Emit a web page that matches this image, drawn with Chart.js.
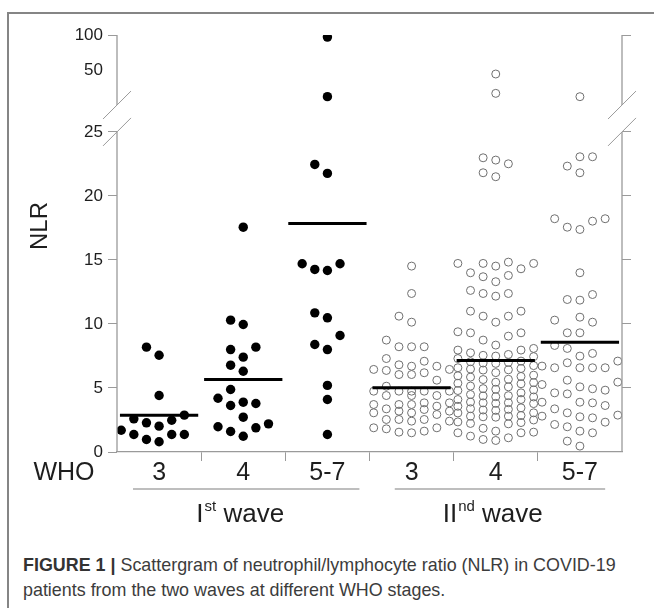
<!DOCTYPE html>
<html>
<head>
<meta charset="utf-8">
<title>NLR scattergram</title>
<script src="https://cdn.jsdelivr.net/npm/chart.js@4.4.1/dist/chart.umd.min.js"></script>
<style>
  html, body { margin: 0; padding: 0; background: #fff; }
  body { width: 654px; height: 608px; position: relative; overflow: hidden; font-family: "Liberation Sans", Arial, sans-serif; }
  #frame { position: absolute; left: 7px; top: 12px; width: 700px; height: 700px; border-left: 2px solid #858585; border-top: 2px solid #858585; }
  #chartBox { position: absolute; left: 0; top: 0; width: 654px; height: 540px; }
  #caption { position: absolute; left: 23px; top: 553px; width: 630px; font-size: 17.9px; line-height: 25px; color: #3c3c3c; white-space: nowrap; }
  #caption b { color: #333; }
</style>
</head>
<body>
<div id="frame"></div>
<div id="chartBox"><canvas id="nlrChart"></canvas></div>
<div id="caption"><b>FIGURE 1 |</b> Scattergram of neutrophil/lymphocyte ratio (NLR) in COVID-19<br>patients from the two waves at different WHO stages.</div>

<script>
// categories and axis labels
const groupLabels = ['3', '4', '5-7', '3', '4', '5-7'];
const waveNames = [['I', 'st'], ['II', 'nd']];
const yTickValues = [0, 5, 10, 15, 20, 25, 50, 100];

// NLR values, one array per wave / WHO stage
const wave1Who3 = [1.70, 2.88, 1.37, 2.48, 0.98, 4.41, 2.02, 0.80, 2.28, 1.37, 7.56, 8.19, 2.59, 1.37];
const wave1Who4 = [17.56, 9.96, 10.3, 8.19, 8.0, 7.41, 6.78, 6.31, 4.88, 3.89, 3.63, 4.2, 3.79, 2.72,
  1.97, 1.6, 1.23, 1.89, 2.2];
const wave1Who57 = [96, 29.5, 22.46, 21.76, 14.7, 14.26, 14.18, 14.7, 10.87, 10.48, 9.1, 8.4, 8.0, 5.2, 4.1, 1.37];

const wave2Who3 = [14.52, 12.38, 10.14, 10.61, 8.74, 8.22, 8.22, 8.22, 7.30, 7.09, 6.81, 6.70, 6.70,
  6.45, 6.45, 6.37, 6.19, 6.05, 6.05, 5.61, 5.14, 4.75, 4.75, 4.75, 4.75, 4.75, 4.41, 4.41, 4.41,
  3.84, 3.84, 3.71, 3.71, 3.71, 3.58, 3.37, 3.32, 3.19, 3.19, 3.06, 3.06, 2.93, 2.54, 2.54, 2.54,
  2.41, 2.41, 1.89, 1.89, 1.81, 1.63, 1.55, 1.50];
const wave2Who4 = [
  9.05, 7.10, 5.66, 4.49, 3.84, 3.06, 1.50,
  14.52, 13.30, 10.61, 8.35, 7.62, 7.05, 6.52, 6.00, 5.45, 4.95, 4.40, 3.90, 3.38, 2.85, 2.35, 1.85, 1.24,
  22.98, 21.81, 14.73, 14.0, 12.38, 11.0, 9.31, 7.96, 7.45, 6.92, 6.40, 5.85, 5.33, 4.80, 4.30, 3.78,
  3.25, 2.72, 2.20, 0.98,
  46.2, 31.5, 22.8, 21.5, 14.73, 13.69, 12.17, 10.61, 9.31, 7.96, 7.30, 6.75, 6.20, 5.68, 5.15, 4.62,
  4.10, 3.57, 3.05, 2.50, 1.63, 0.90,
  22.51, 14.73, 13.79, 12.38, 11.0, 9.39, 8.09, 7.55, 7.0, 6.48, 5.95, 5.42, 4.90, 4.38, 3.85, 3.33,
  2.80, 2.30, 1.55, 1.11,
  14.83, 14.31, 12.62, 10.14, 8.74, 7.49, 6.95, 6.42, 5.90, 5.37, 4.85, 4.32, 3.80, 3.28, 2.75, 2.23, 1.50,
  7.75, 6.58, 5.09, 4.10, 3.45, 2.80];
const wave2Who57 = [29.5, 23.06, 21.81, 22.33, 23.06, 18.22, 18.03, 17.38, 17.56, 18.22, 14.0, 12.3,
  11.86, 11.91, 10.53, 10.14, 10.3, 9.31, 9.31, 8.32, 7.70, 8.09, 7.10, 7.49, 6.97, 6.58, 6.58, 6.58,
  6.58, 6.71, 5.46, 5.09, 5.27, 5.61, 4.94, 4.62, 4.54, 4.83, 3.63, 3.89, 3.89, 3.37, 3.84, 2.75,
  3.06, 2.88, 2.33, 2.67, 2.80, 1.97, 2.15, 1.63, 1.50, 0.85, 0.46];

// group means, as drawn by the horizontal bars
const groupMeans = [2.88, 5.66, 17.85, 5.01, 7.15, 8.58];

const FONT = '"Liberation Sans", Arial, sans-serif';
const AXIS_GREY = '#9a9a9a';
const TEXT = '#1e1e1e';
const CLEAR = 'rgba(0,0,0,0)';

// broken y axis: linear up to 25, then a gap, then log 25..100
const BREAK_AT = 25;
const GAP = 2.1;
const UPPER_SPAN = 5.47;
const UPPER_START = BREAK_AT + GAP;
function toAxis(v) {
  if (v <= BREAK_AT) return v;
  return UPPER_START + Math.log(v / BREAK_AT) / Math.log(100 / BREAK_AT) * UPPER_SPAN;
}
const Y_MAX = toAxis(100);

// simple column beeswarm, like the scatter-dot layout of the figure
const COL_STEP = 0.15;
const MIN_GAP = 1.1;
function swarm(values, center) {
  const order = [0, -1, 1, -2, 2, -3, 3];
  const cols = {};
  order.forEach(c => cols[c] = []);
  return values.slice().sort((a, b) => a - b).map(v => {
    const y = toAxis(v);
    const room = c => cols[c].reduce((m, u) => Math.min(m, Math.abs(u - y)), Infinity);
    let col = order.find(c => room(c) >= MIN_GAP);
    if (col === undefined) {
      col = order.reduce((best, c) => room(c) > room(best) ? c : best, order[0]);
    }
    cols[col].push(y);
    return { x: center + col * COL_STEP, y: y };
  });
}

function meanBars() {
  const pts = [];
  groupMeans.forEach((m, i) => {
    pts.push({ x: i - 0.465, y: toAxis(m) }, { x: i + 0.465, y: toAxis(m) }, { x: i + 0.5, y: null });
  });
  return pts;
}

const xTickValues = [];
groupLabels.forEach((_, i) => {
  xTickValues.push(i);
  if (i < groupLabels.length - 1) xTickValues.push(i + 0.5);
});

// axis lines with the break marks, plus the group labels under the axis
const breakAndGroups = {
  id: 'breakAndGroups',
  afterDraw(chart) {
    const { ctx, chartArea: area, scales: { x, y } } = chart;
    const yZero = y.getPixelForValue(0);
    const yLowTop = y.getPixelForValue(BREAK_AT);
    const yHighBottom = y.getPixelForValue(UPPER_START);
    const yTop = y.getPixelForValue(Y_MAX);
    ctx.save();
    ctx.strokeStyle = AXIS_GREY;
    [area.left, area.right].forEach(ax => {
      ctx.lineWidth = 1.3;
      ctx.beginPath();
      ctx.moveTo(ax, yZero);
      ctx.lineTo(ax, yLowTop);
      ctx.moveTo(ax, yHighBottom);
      ctx.lineTo(ax, yTop);
      ctx.stroke();
      ctx.lineWidth = 1;
      ctx.beginPath();
      [yLowTop, yHighBottom].forEach(py => {
        ctx.moveTo(ax - 14, py + 14);
        ctx.lineTo(ax + 14, py - 14);
      });
      ctx.stroke();
    });

    ctx.fillStyle = TEXT;
    ctx.textAlign = 'center';
    ctx.textBaseline = 'middle';

    // y axis name
    ctx.save();
    ctx.translate(40, 226);
    ctx.rotate(-Math.PI / 2);
    ctx.font = '24px ' + FONT;
    ctx.fillText('NLR', 0, 0);
    ctx.restore();

    ctx.font = '25px ' + FONT;
    ctx.fillText('WHO', 64, 473);

    ctx.strokeStyle = '#a8a8a8';
    ctx.lineWidth = 1.5;
    [[-0.31, 2.38], [2.8, 5.3]].forEach(([a, b]) => {
      ctx.beginPath();
      ctx.moveTo(x.getPixelForValue(a), 489);
      ctx.lineTo(x.getPixelForValue(b), 489);
      ctx.stroke();
    });

    ctx.textAlign = 'left';
    ctx.textBaseline = 'alphabetic';
    waveNames.forEach(([num, sup], k) => {
      const cx = x.getPixelForValue(1 + 3 * k) - 3;
      ctx.font = '26px ' + FONT;
      const wNum = ctx.measureText(num).width;
      const wRest = ctx.measureText(' wave').width;
      ctx.font = '15px ' + FONT;
      const wSup = ctx.measureText(sup).width;
      let px = cx - (wNum + wSup + 1 + wRest) / 2;
      ctx.font = '26px ' + FONT;
      ctx.fillText(num, px, 522);
      px += wNum + 1;
      ctx.font = '15px ' + FONT;
      ctx.fillText(sup, px, 511);
      px += wSup;
      ctx.font = '26px ' + FONT;
      ctx.fillText(' wave', px, 522);
    });
    ctx.restore();
  }
};

function createScattergram() {
  const ctx = document.getElementById('nlrChart').getContext('2d');

  const yTicks = scale => { scale.ticks = yTickValues.map(v => ({ value: toAxis(v) })); };

  const config = {
    type: 'scatter',
    data: {
      datasets: [
        {
          type: 'line',
          label: 'mean',
          data: meanBars(),
          showLine: true,
          spanGaps: false,
          borderColor: '#000',
          borderWidth: 3,
          pointRadius: 0,
          order: 0
        },
        {
          label: 'Ist wave',
          data: [...swarm(wave1Who3, 0), ...swarm(wave1Who4, 1), ...swarm(wave1Who57, 2)],
          pointRadius: 4.7,
          backgroundColor: '#000',
          borderWidth: 0,
          order: 1
        },
        {
          label: 'IInd wave',
          data: [...swarm(wave2Who3, 3), ...swarm(wave2Who4, 4), ...swarm(wave2Who57, 5)],
          pointRadius: 4,
          backgroundColor: CLEAR,
          borderColor: '#6f6f6f',
          borderWidth: 1,
          order: 1
        }
      ]
    },
    options: {
      responsive: true,
      maintainAspectRatio: false,
      animation: false,
      layout: { padding: { top: 35, left: 0, right: 0, bottom: 0 } },
      plugins: {
        legend: { display: false },
        tooltip: { enabled: false }
      },
      scales: {
        x: {
          type: 'linear',
          min: -0.5,
          max: 5.5,
          afterBuildTicks: scale => { scale.ticks = xTickValues.map(v => ({ value: v })); },
          afterFit: scale => { scale.height = 88; },
          ticks: {
            autoSkip: false,
            maxRotation: 0,
            padding: 0,
            color: TEXT,
            font: { family: FONT, size: 25, lineHeight: 1 },
            callback: v => Number.isInteger(v) ? groupLabels[v] : ''
          },
          grid: {
            drawOnChartArea: false,
            tickLength: 9,
            tickColor: c => Number.isInteger(c.tick.value) ? CLEAR : AXIS_GREY
          },
          border: { color: AXIS_GREY, width: 1.3 }
        },
        y: {
          type: 'linear',
          min: 0,
          max: Y_MAX,
          afterBuildTicks: yTicks,
          afterFit: scale => { scale.width = 117; },
          ticks: {
            padding: 5,
            color: TEXT,
            font: { family: FONT, size: 17 },
            callback: (v, i) => String(yTickValues[i])
          },
          grid: {
            drawOnChartArea: false,
            tickLength: 9,
            tickColor: c => yTickValues[c.index] === 50 ? CLEAR : AXIS_GREY
          },
          border: { display: false }
        },
        yRight: {
          type: 'linear',
          position: 'right',
          min: 0,
          max: Y_MAX,
          afterBuildTicks: yTicks,
          afterFit: scale => { scale.width = 32; },
          ticks: { display: false },
          grid: {
            drawOnChartArea: false,
            tickLength: 9,
            tickColor: c => [0, 50].includes(yTickValues[c.index]) ? CLEAR : AXIS_GREY
          },
          border: { display: false }
        }
      }
    },
    plugins: [breakAndGroups]
  };

  new Chart(ctx, config);
}

window.onload = function() {
  createScattergram();
};
</script>
</body>
</html>
